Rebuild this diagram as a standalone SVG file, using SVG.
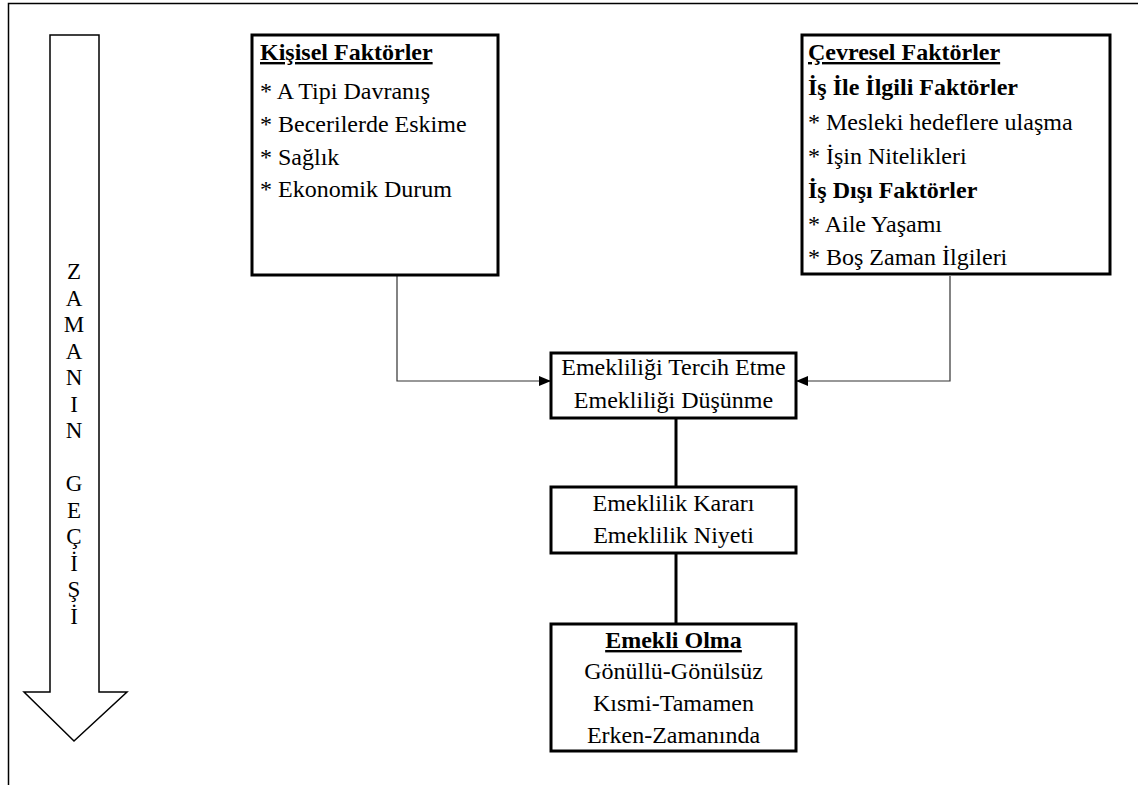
<svg xmlns="http://www.w3.org/2000/svg" width="1138" height="785" viewBox="0 0 1138 785">
<defs>
<style>
.t{font-family:"Liberation Serif","Times New Roman",serif;font-size:24px;fill:#000}
.b{font-weight:bold}
.u{text-decoration:underline}
.box{fill:#fff;stroke:#000;stroke-width:3}
.v{font-family:"Liberation Serif","Times New Roman",serif;font-size:23px;fill:#000;text-anchor:middle}
.c{text-anchor:middle}
.con{fill:none;stroke:#333;stroke-width:1.2}
.thick{fill:none;stroke:#000;stroke-width:3}
</style>
<marker id="ah" viewBox="0 0 12 10" refX="12" refY="5" markerWidth="12" markerHeight="10" markerUnits="userSpaceOnUse" orient="auto">
<path d="M0,0 L12,5 L0,10 Z" fill="#000"/>
</marker>
</defs>
<rect width="1138" height="785" fill="#fff"/>
<polyline points="8.5,785 8.5,3.5 1138,3.5" fill="none" stroke="#000" stroke-width="1.5"/>

<g id="time-arrow">
<polygon points="50,35 99,35 99,692 127,692 74,741 24,692 50,692" fill="#fff" stroke="#000" stroke-width="1.5"/>
<text class="v" x="74" y="279">Z</text>
<text class="v" x="74" y="305.5">A</text>
<text class="v" x="74" y="332">M</text>
<text class="v" x="74" y="358.5">A</text>
<text class="v" x="74" y="385">N</text>
<text class="v" x="74" y="411.5">I</text>
<text class="v" x="74" y="438">N</text>
<text class="v" x="74" y="491">G</text>
<text class="v" x="74" y="517.5">E</text>
<text class="v" x="74" y="544">Ç</text>
<text class="v" x="74" y="570.5">İ</text>
<text class="v" x="74" y="597">Ş</text>
<text class="v" x="74" y="623.5">İ</text>
</g>

<g id="connectors">
<polyline class="con" points="397,276 397,381 551,381" marker-end="url(#ah)"/>
<polyline class="con" points="950,276 950,381 796,381" marker-end="url(#ah)"/>
<line class="thick" x1="676" y1="418" x2="676" y2="487"/>
<line class="thick" x1="676" y1="553" x2="676" y2="624"/>
</g>

<g id="kisisel">
<rect class="box" x="252" y="35" width="246" height="240"/>
<text class="t b u" x="260" y="60">Kişisel Faktörler</text>
<text class="t" x="260" y="99">* A Tipi Davranış</text>
<text class="t" x="260" y="132">* Becerilerde Eskime</text>
<text class="t" x="260" y="165">* Sağlık</text>
<text class="t" x="260" y="197">* Ekonomik Durum</text>
</g>

<g id="cevresel">
<rect class="box" x="802" y="35" width="308" height="239"/>
<text class="t b u" x="808" y="60">Çevresel Faktörler</text>
<text class="t b" x="808" y="95">İş İle İlgili Faktörler</text>
<text class="t" x="808" y="130">* Mesleki hedeflere ulaşma</text>
<text class="t" x="808" y="164">* İşin Nitelikleri</text>
<text class="t b" x="808" y="198">İş Dışı Faktörler</text>
<text class="t" x="808" y="232">* Aile Yaşamı</text>
<text class="t" x="808" y="265">* Boş Zaman İlgileri</text>
</g>

<g id="dusunme">
<rect class="box" x="551" y="353" width="245" height="65"/>
<text class="t c" x="673.5" y="375">Emekliliği Tercih Etme</text>
<text class="t c" x="673.5" y="408">Emekliliği Düşünme</text>
</g>

<g id="karar">
<rect class="box" x="551" y="487" width="245" height="66"/>
<text class="t c" x="673.5" y="511">Emeklilik Kararı</text>
<text class="t c" x="673.5" y="543">Emeklilik Niyeti</text>
</g>

<g id="emekli-olma">
<rect class="box" x="551" y="624" width="245" height="127"/>
<text class="t b u c" x="673.5" y="648">Emekli Olma</text>
<text class="t c" x="673.5" y="679">Gönüllü-Gönülsüz</text>
<text class="t c" x="673.5" y="711">Kısmi-Tamamen</text>
<text class="t c" x="673.5" y="743">Erken-Zamanında</text>
</g>
</svg>
